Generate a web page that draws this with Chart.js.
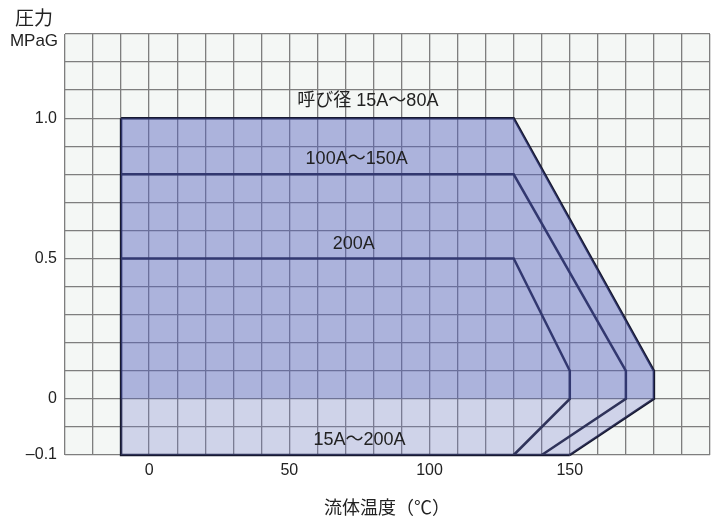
<!DOCTYPE html>
<html lang="ja">
<head>
<meta charset="UTF-8">
<title>圧力-温度線図</title>
<script src="https://cdn.jsdelivr.net/npm/chart.js"></script>
<style>
    html, body { margin: 0; padding: 0; background: #ffffff; }
    #wrap { width: 719px; height: 523px; position: relative; }
</style>
</head>
<body>
<div id="wrap"><canvas id="chart"></canvas></div>
<script>
    // 流体温度 (℃) と 圧力 (MPaG)
    const temp15to80 = [-10, 130, 180, 180, 150];
    const pres15to80 = [1.0, 1.0, 0.1, 0, -0.1];
    const temp100to150 = [-10, 130, 170, 170, 140];
    const pres100to150 = [0.8, 0.8, 0.1, 0, -0.1];
    const temp200 = [-10, 130, 150, 150, 130];
    const pres200 = [0.5, 0.5, 0.1, 0, -0.1];
    // 外枠 (左端と下端)
    const frameTemp = [150, -10, -10];
    const framePres = [-0.1, -0.1, 1.0];
    // 塗りつぶし領域
    const fillTemp = [-10, -10, 130, 180, 180];
    const fillPres = [0, 1.0, 1.0, 0.1, 0];
    const vacTemp = [-10, -10, 150, 180];
    const vacPres = [0, -0.1, -0.1, 0];

    const xTickLabels = [0, 50, 100, 150];
    const yTickLabels = [1.0, 0.5, 0, -0.1];
    const seriesLabels = ['呼び径 15A～80A', '100A～150A', '200A', '15A～200A'];

    // 真空側は縦軸が2倍に引き伸ばされている
    const toAxis = p => p < 0 ? p * 2 : p;
    const pts = (xs, ys) => xs.map((x, i) => ({ x: x, y: toAxis(ys[i]) }));

    const lineColor = '#171930';
    const font = '"Liberation Sans", Arial, "Noto Sans CJK JP", sans-serif';

    const lineDs = (xs, ys) => ({
        data: pts(xs, ys),
        showLine: true,
        borderColor: lineColor,
        borderWidth: 2.5,
        pointRadius: 0,
        fill: false,
        clip: false,
        tension: 0
    });

    const bgPlugin = {
        id: 'bg',
        beforeDraw(chart) {
            const a = chart.chartArea;
            const ctx = chart.ctx;
            ctx.save();
            ctx.fillStyle = '#f4f7f5';
            ctx.fillRect(a.left, a.top, a.right - a.left, a.bottom - a.top);
            ctx.restore();
        }
    };

    const textPlugin = {
        id: 'texts',
        afterDraw(chart) {
            const ctx = chart.ctx;
            const x = chart.scales.x, y = chart.scales.y;
            ctx.save();
            ctx.fillStyle = '#222';
            ctx.textBaseline = 'middle';
            ctx.textAlign = 'center';
            ctx.font = '18px ' + font;
            const pos = [[78, 1.06], [74, 0.855], [73, 0.55], [75, -0.073]];
            seriesLabels.forEach((t, i) => {
                ctx.fillText(t, x.getPixelForValue(pos[i][0]), y.getPixelForValue(toAxis(pos[i][1])));
            });
            // 軸タイトル
            ctx.font = '19px "Noto Sans CJK JP", sans-serif';
            ctx.fillText('圧力', 34, 18);
            ctx.font = '17px ' + font;
            ctx.fillText('MPaG', 34, 41);
            ctx.font = '18px "Noto Sans CJK JP", sans-serif';
            ctx.fillText('流体温度（℃）', 387, 507);
            ctx.restore();
        }
    };

    new Chart(document.getElementById('chart'), {
        type: 'scatter',
        data: {
            datasets: [
                {
                    data: pts(fillTemp, fillPres),
                    showLine: true,
                    borderWidth: 0,
                    borderColor: 'rgba(0,0,0,0)',
                    backgroundColor: 'rgba(85,95,190,0.45)',
                    pointRadius: 0,
                    fill: 'shape'
                },
                {
                    data: pts(vacTemp, vacPres),
                    showLine: true,
                    borderWidth: 0,
                    borderColor: 'rgba(0,0,0,0)',
                    backgroundColor: 'rgba(110,120,200,0.28)',
                    pointRadius: 0,
                    fill: 'shape'
                },
                lineDs(temp15to80, pres15to80),
                lineDs(temp100to150, pres100to150),
                lineDs(temp200, pres200),
                lineDs(frameTemp, framePres)
            ]
        },
        options: {
            responsive: true,
            maintainAspectRatio: false,
            animation: false,
            layout: { padding: { top: 34, right: 9, left: 0, bottom: 0 } },
            plugins: {
                legend: { display: false },
                tooltip: { enabled: false }
            },
            scales: {
                x: {
                    type: 'linear',
                    min: -30,
                    max: 200,
                    afterFit(s) { s.height = 68; },
                    ticks: {
                        stepSize: 10,
                        autoSkip: false,
                        maxRotation: 0,
                        padding: 6,
                        color: '#222',
                        font: { size: 16, family: font },
                        callback: v => xTickLabels.includes(Math.round(v)) ? String(Math.round(v)) : ''
                    },
                    grid: { color: '#7e7e7e', lineWidth: 1.3, drawTicks: false },
                    border: { display: false }
                },
                y: {
                    type: 'linear',
                    min: -0.2,
                    max: 1.3,
                    afterFit(s) { s.width = 65; },
                    ticks: {
                        stepSize: 0.1,
                        autoSkip: false,
                        padding: 8,
                        color: '#222',
                        font: { size: 16, family: font },
                        callback: v => {
                            const r = Math.round(v * 10) / 10;
                            const real = r < 0 ? r / 2 : r;
                            const hit = yTickLabels.find(t => Math.abs(t - real) < 1e-6 && (r >= 0 || Math.abs(r + 0.2) < 1e-6));
                            if (hit === undefined) return '';
                            if (hit === 0) return '0';
                            return hit < 0 ? '–' + Math.abs(hit).toFixed(1) : hit.toFixed(1);
                        }
                    },
                    grid: { color: '#7e7e7e', lineWidth: 1.3, drawTicks: false },
                    border: { display: false }
                }
            }
        },
        plugins: [bgPlugin, textPlugin]
    });
</script>
</body>
</html>
